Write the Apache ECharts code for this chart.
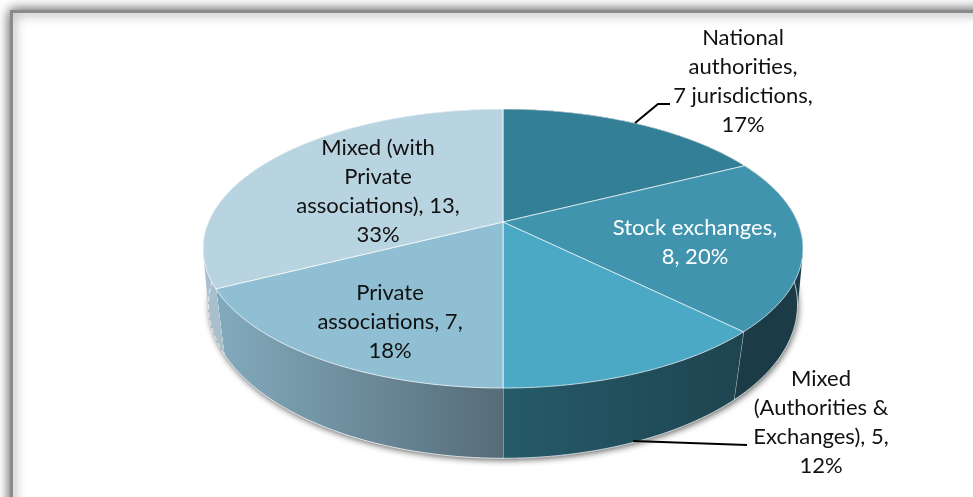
<!DOCTYPE html>
<html>
<head>
<meta charset="utf-8">
<style>html,body{margin:0;padding:0;background:#fff}#c{width:973px;height:497px}</style>
<script src="https://cdn.jsdelivr.net/npm/echarts@6/dist/echarts.min.js"></script>
</head>
<body>
<div id="c"></div>
<script>
// ---- data ----
var categories = ['National authorities', 'Stock exchanges', 'Mixed (Authorities & Exchanges)', 'Private associations', 'Mixed (with Private associations)'];
var values = [7, 8, 5, 7, 13];
var percents = [17, 20, 12, 18, 33];
var labelLines = [
  ['National', 'authorities,', '7 jurisdictions,', '17%'],
  ['Stock exchanges,', '8, 20%'],
  ['Mixed', '(Authorities &', 'Exchanges), 5,', '12%'],
  ['Private', 'associations, 7,', '18%'],
  ['Mixed (with', 'Private', 'associations), 13,', '33%']
];
// ---- styling / layout ----
var topColors = ['#337f95', '#4094ae', '#4ba9c6', '#90bfd3', '#b9d4e1'];
var sideColors = [
  ['#1b3a46', '#1b3a46'],
  ['#1b3b47', '#1b3b47'],
  ['#265b6a', '#1e4450'],
  ['#82abbd', '#566c78'],
  ['#a9c0cc', '#a9c0cc']
];
var labelColors = ['#111', '#fff', '#111', '#111', '#111'];
var labelAnchors = [[743, 38], [695, 228], [821, 379], [390, 293], [378, 148]];
var LINE_H = 29;
var FONT = '22px Lato, "Open Sans", sans-serif';
var topDisc = {cx: 503, cy: 222, a: 294.5, b: 134.5, k: -0.19};
var baseDisc = {cx: 503, cy: 281, a: 291, b: 150, k: -0.154};
var leaders = [
  [[635, 123], [658, 104], [670, 104]],
  [[633, 441], [747, 445]]
];
var total = values.reduce(function (s, v) { return s + v; }, 0);

function project(d, t) { // t: clockwise from the top of the pie
  var u = Math.sin(t), v = -Math.cos(t), w = 1 + d.k * v;
  return [d.cx + d.a * u / w, d.cy + d.b * v / w];
}
function arc(d, t0, t1) {
  var n = Math.max(2, Math.ceil(Math.abs(t1 - t0) / 0.01)), out = [];
  for (var i = 0; i <= n; i++) out.push(project(d, t0 + (t1 - t0) * i / n));
  return out;
}
function range(i) {
  var s = 0;
  for (var j = 0; j < i; j++) s += values[j];
  return [s / total * Math.PI * 2, (s + values[i]) / total * Math.PI * 2];
}
function center(d) { return [d.cx, d.cy]; }
function hull(points) { // convex outline of the whole drum
  var p = points.slice().sort(function (a, b) { return a[0] - b[0] || a[1] - b[1]; });
  function cross(o, a, b) { return (a[0] - o[0]) * (b[1] - o[1]) - (a[1] - o[1]) * (b[0] - o[0]); }
  function half(list) {
    var h = [];
    list.forEach(function (q) {
      while (h.length > 1 && cross(h[h.length - 2], h[h.length - 1], q) <= 0) h.pop();
      h.push(q);
    });
    h.pop();
    return h;
  }
  return half(p).concat(half(p.slice().reverse()));
}

var seriesData = values.map(function (v, i) { return [v, i]; });

var option = {
  animation: false,
  backgroundColor: '#ffffff',
  graphic: {elements: [{
    type: 'rect', z: 0, silent: true,
    shape: {x: 11.5, y: 11.5, width: 1000, height: 540},
    style: {fill: '#fff', stroke: '#8a8a8a', lineWidth: 3, shadowBlur: 12, shadowColor: 'rgba(0,0,0,0.7)'}
  }]},
  series: [
    { // soft shadow of the base, then the drum outline
      type: 'custom', coordinateSystem: 'none', z: 2, silent: true, data: [[1]],
      renderItem: function () {
        var outline = hull(arc(topDisc, 0, Math.PI * 2).concat(arc(baseDisc, 0, Math.PI * 2)));
        var fill = new echarts.graphic.LinearGradient(0, 0, 1, 0, [
          {offset: 0, color: '#a9c0cc'}, {offset: 0.5, color: '#a9c0cc'},
          {offset: 0.5, color: '#1b3b47'}, {offset: 1, color: '#1b3b47'}]);
        return {type: 'group', children: [
          {type: 'polygon', shape: {points: arc(baseDisc, 0, Math.PI * 2)},
            style: {fill: '#888', shadowBlur: 6, shadowOffsetY: 2, shadowOffsetX: 1, shadowColor: 'rgba(0,0,0,0.6)'}},
          {type: 'polygon', shape: {points: outline}, style: {fill: fill}}
        ]};
      }
    },
    { // side walls
      type: 'custom', coordinateSystem: 'none', z: 3, silent: true, data: seriesData,
      renderItem: function (p, api) {
        var i = api.value(1), r = range(i);
        var pts = arc(topDisc, r[0], r[1]).concat(arc(baseDisc, r[1], r[0]));
        var c0 = sideColors[i][0], c1 = sideColors[i][1];
        var fill = new echarts.graphic.LinearGradient(0, 0, 1, 0, [{offset: 0, color: c0}, {offset: 1, color: c1}]);
        var seam = [project(topDisc, r[1]), project(baseDisc, r[1])];
        return {type: 'group', children: [
          {type: 'polygon', shape: {points: pts}, style: {fill: fill, stroke: null}},
          {type: 'polyline', shape: {points: arc(baseDisc, r[0], r[1])},
            style: {stroke: 'rgba(255,255,255,0.75)', lineWidth: 1, fill: null, lineDash: i === 4 ? [5, 3] : null}},
          {type: 'polyline', shape: {points: seam},
            style: {stroke: 'rgba(255,255,255,0.75)', lineWidth: 1, fill: null, lineDash: i === 3 ? [5, 3] : null}}
        ]};
      }
    },
    { // top faces
      type: 'custom', coordinateSystem: 'none', z: 4, silent: true, data: seriesData,
      renderItem: function (p, api) {
        var i = api.value(1), r = range(i);
        var pts = [center(topDisc)].concat(arc(topDisc, r[0], r[1]));
        return {type: 'polygon', shape: {points: pts},
          style: {fill: topColors[i], stroke: 'rgba(255,255,255,0.7)', lineWidth: 1}};
      }
    },
    { // leader lines
      type: 'custom', coordinateSystem: 'none', z: 5, silent: true, data: leaders.map(function (l, i) { return [i]; }),
      renderItem: function (p, api) {
        return {type: 'polyline', shape: {points: leaders[api.value(0)]},
          style: {stroke: '#000', lineWidth: 2, fill: null}};
      }
    },
    { // labels
      type: 'custom', coordinateSystem: 'none', z: 6, silent: true, data: seriesData,
      renderItem: function (p, api) {
        var i = api.value(1), a = labelAnchors[i];
        return {type: 'group', children: labelLines[i].map(function (t, n) {
          return {type: 'text', style: {text: t, x: a[0], y: a[1] + n * LINE_H, font: FONT,
            fill: labelColors[i], textAlign: 'center', textVerticalAlign: 'middle'}};
        })};
      }
    }
  ]
};
echarts.init(document.getElementById('c'), null, {renderer: 'canvas'}).setOption(option);
</script>
</body>
</html>
